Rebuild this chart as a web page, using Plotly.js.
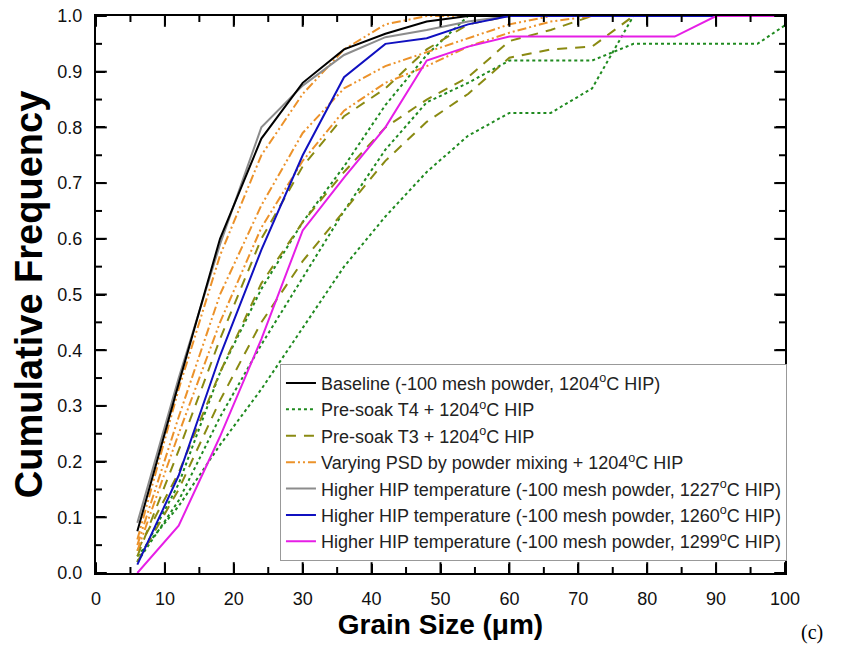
<!DOCTYPE html>
<html>
<head>
<meta charset="utf-8">
<script src="https://cdn.plot.ly/plotly-3.0.1.min.js"></script>
<style>
  html, body { margin: 0; padding: 0; background: #fff; }
  #chart { width: 846px; height: 646px; }
</style>
</head>
<body>
<div id="chart"></div>
<script>
// Grain size bin upper edges (µm)
const grainSize = [6, 12, 18, 24, 30, 36, 42, 48, 54, 60, 66, 72, 78, 84, 90, 96, 102];

// Cumulative frequency series
const baseline1204 = [0.075, 0.34, 0.60, 0.78, 0.88, 0.94, 0.968, 0.99, 1, 1, 1, 1, 1, 1, 1, 1, 1];
const presoakT4a   = [0.02, 0.16, 0.36, 0.51, 0.63, 0.73, 0.84, 0.93, 1, 1, 1, 1, 1, 1, 1, 1, 1];
const presoakT4b   = [0.02, 0.13, 0.28, 0.41, 0.53, 0.65, 0.76, 0.845, 0.88, 0.92, 0.92, 0.92, 0.95, 0.95, 0.95, 0.95, 1];
const presoakT4c   = [0.03, 0.12, 0.23, 0.33, 0.44, 0.55, 0.64, 0.72, 0.785, 0.826, 0.826, 0.87, 1, 1, 1, 1, 1];
const presoakT3a   = [0.03, 0.22, 0.42, 0.60, 0.73, 0.82, 0.87, 0.94, 0.985, 1, 1, 1, 1, 1, 1, 1, 1];
const presoakT3b   = [0.04, 0.18, 0.36, 0.52, 0.63, 0.72, 0.80, 0.85, 0.89, 0.955, 0.975, 1, 1, 1, 1, 1, 1];
const presoakT3c   = [0.02, 0.15, 0.31, 0.45, 0.56, 0.65, 0.74, 0.81, 0.86, 0.925, 0.94, 0.945, 1, 1, 1, 1, 1];
const psdMixA      = [0.06, 0.33, 0.57, 0.75, 0.86, 0.94, 0.985, 1, 1, 1, 1, 1, 1, 1, 1, 1, 1];
const psdMixB      = [0.05, 0.28, 0.50, 0.66, 0.79, 0.87, 0.91, 0.935, 0.96, 0.985, 1, 1, 1, 1, 1, 1, 1];
const psdMixC      = [0.04, 0.25, 0.45, 0.62, 0.74, 0.83, 0.88, 0.91, 0.945, 0.97, 0.99, 1, 1, 1, 1, 1, 1];
const hip1227      = [0.09, 0.35, 0.59, 0.80, 0.875, 0.93, 0.962, 0.975, 0.99, 1, 1, 1, 1, 1, 1, 1, 1];
const hip1260      = [0.015, 0.175, 0.39, 0.58, 0.75, 0.89, 0.95, 0.96, 0.985, 1, 1, 1, 1, 1, 1, 1, 1];
const hip1299      = [0.0, 0.085, 0.245, 0.42, 0.615, 0.71, 0.80, 0.92, 0.945, 0.963, 0.963, 0.963, 0.963, 0.963, 1, 1, 1];

// Tick values (major labelled, minor unlabelled)
const xMajorTicks = [0, 10, 20, 30, 40, 50, 60, 70, 80, 90, 100];
const xMinorTicks = [5, 15, 25, 35, 45, 55, 65, 75, 85, 95];
const yMajorTicks = [0, 0.1, 0.2, 0.3, 0.4, 0.5, 0.6, 0.7, 0.8, 0.9, 1.0];
const yMinorTicks = [0.05, 0.15, 0.25, 0.35, 0.45, 0.55, 0.65, 0.75, 0.85, 0.95];

const names = {
  base: 'Baseline (-100 mesh powder, 1204<sup>o</sup>C HIP)',
  t4: 'Pre-soak T4 + 1204<sup>o</sup>C HIP',
  t3: 'Pre-soak T3 + 1204<sup>o</sup>C HIP',
  psd: 'Varying PSD by powder mixing + 1204<sup>o</sup>C HIP',
  h1227: 'Higher HIP temperature (-100 mesh powder, 1227<sup>o</sup>C HIP)',
  h1260: 'Higher HIP temperature (-100 mesh powder, 1260<sup>o</sup>C HIP)',
  h1299: 'Higher HIP temperature (-100 mesh powder, 1299<sup>o</sup>C HIP)'
};

const green = '#1f8a1f', olive = '#8a8a12', orange = '#ec922a', gray = '#8c8c8c', blue = '#1010c0', magenta = '#e61ee6';
const dashDotDot = '9px,3px,2px,3px,2px,3px';

function tr(y, name, group, color, dash, show, rank) {
  return {
    x: grainSize, y: y, type: 'scatter', mode: 'lines',
    name: name, legendgroup: group, showlegend: show, legendrank: rank,
    line: { color: color, width: 2, dash: dash }
  };
}

const xRange = [0, 100], yRange = [0, 1];
const plotW = 846 - 96 - 61, plotH = 646 - 16 - 73;

// Inward tick marks as line-symbol markers, centred half a tick inside each edge
function tickMarkers(vals, isX, lenPx) {
  const dx = px => px * (xRange[1] - xRange[0]) / plotW;
  const dy = px => px * (yRange[1] - yRange[0]) / plotH;
  const xs = [], ys = [];
  vals.forEach(v => {
    if (isX) { xs.push(v, v); ys.push(yRange[0] + dy(lenPx / 2), yRange[1] - dy(lenPx / 2)); }
    else { xs.push(xRange[0] + dx(lenPx / 2), xRange[1] - dx(lenPx / 2)); ys.push(v, v); }
  });
  return { x: xs, y: ys, type: 'scatter', mode: 'markers', showlegend: false, hoverinfo: 'skip',
    cliponaxis: false,
    marker: { symbol: isX ? 'line-ns-open' : 'line-ew-open', size: lenPx, color: '#000',
              line: { color: '#000', width: 2 } } };
}

const data = [
  tr(presoakT4a, names.t4, 't4', green, 'dot', true, 2),
  tr(presoakT4b, names.t4, 't4', green, 'dot', false, 2),
  tr(presoakT4c, names.t4, 't4', green, 'dot', false, 2),
  tr(presoakT3a, names.t3, 't3', olive, '10px,8px', true, 3),
  tr(presoakT3b, names.t3, 't3', olive, '10px,8px', false, 3),
  tr(presoakT3c, names.t3, 't3', olive, '10px,8px', false, 3),
  tr(psdMixA, names.psd, 'psd', orange, dashDotDot, true, 4),
  tr(psdMixB, names.psd, 'psd', orange, dashDotDot, false, 4),
  tr(psdMixC, names.psd, 'psd', orange, dashDotDot, false, 4),
  tr(hip1227, names.h1227, 'h1227', gray, 'solid', true, 5),
  tr(baseline1204, names.base, 'base', '#000000', 'solid', true, 1),
  tr(hip1260, names.h1260, 'h1260', blue, 'solid', true, 6),
  tr(hip1299, names.h1299, 'h1299', magenta, 'solid', true, 7),
  tickMarkers(xMajorTicks, true, 9),
  tickMarkers(xMinorTicks, true, 5),
  tickMarkers(yMajorTicks, false, 9),
  tickMarkers(yMinorTicks, false, 5)
];

const layout = {
  width: 846, height: 646,
  paper_bgcolor: '#fff', plot_bgcolor: '#fff',
  margin: { l: 96, r: 61, t: 16, b: 73 },
  showlegend: true,
  xaxis: {
    range: xRange, tickmode: 'array', tickvals: xMajorTicks, ticktext: xMajorTicks.map(String),
    showline: true, linecolor: '#000', linewidth: 2, mirror: 'ticks',
    ticks: 'inside', ticklen: 9, tickwidth: 2, tickcolor: '#000',
    showgrid: false, zeroline: false,
    ticklabelstandoff: 8,
    tickfont: { family: 'Liberation Sans, Arial, sans-serif', size: 18, color: '#111' },
    title: { text: 'Grain Size (μm)', standoff: 6,
      font: { family: 'Liberation Sans, Arial, sans-serif', size: 28, color: '#000', weight: 'bold' } }
  },
  yaxis: {
    range: yRange, tickmode: 'array', tickvals: yMajorTicks, ticktext: yMajorTicks.map(v => v.toFixed(1)),
    showline: true, linecolor: '#000', linewidth: 2, mirror: 'ticks',
    ticks: 'inside', ticklen: 9, tickwidth: 2, tickcolor: '#000',
    showgrid: false, zeroline: false,
    ticklabelstandoff: 8,
    tickfont: { family: 'Liberation Sans, Arial, sans-serif', size: 18, color: '#111' },
    title: { text: 'Cumulative Frequency', standoff: 3,
      font: { family: 'Liberation Sans, Arial, sans-serif', size: 38, color: '#000', weight: 'bold' } }
  },
  legend: {
    x: 0.267, y: 0.022, xanchor: 'left', yanchor: 'bottom',
    bgcolor: '#fff', bordercolor: '#999', borderwidth: 1,
    font: { family: 'Liberation Sans, Arial, sans-serif', size: 18, color: '#222' },
    tracegroupgap: 0, traceorder: 'normal'
  },
  annotations: [{
    text: '(c)', xref: 'paper', yref: 'paper', x: 1.039, y: -0.106,
    xanchor: 'center', yanchor: 'middle', showarrow: false,
    font: { family: 'Liberation Serif, Times New Roman, serif', size: 20, color: '#000' }
  }]
};

Plotly.newPlot('chart', data, layout, { displayModeBar: false, staticPlot: true });
</script>
</body>
</html>
